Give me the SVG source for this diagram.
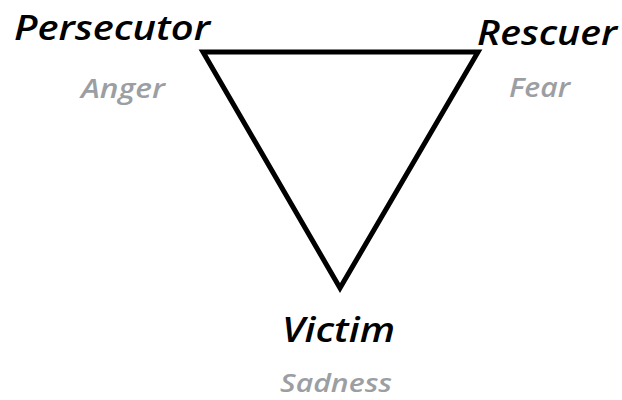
<svg xmlns="http://www.w3.org/2000/svg" width="622" height="400" viewBox="0 0 622 400">
<style>
.role{font-family:"Open Sans",Lato,sans-serif;font-weight:600;font-style:italic;font-size:34px;fill:#000}
.emo{font-family:"Open Sans",Lato,sans-serif;font-weight:600;font-style:italic;font-size:27px;fill:#9b9fa3}
</style>
<rect width="622" height="400" fill="#fff"/>
<g id="connectors">
<polygon points="203,52 478,52 340,288" fill="none" stroke="#000" stroke-width="5" stroke-linejoin="miter"/>
</g>
<g id="persecutor"><text class="role" x="14" y="40" textLength="196" lengthAdjust="spacingAndGlyphs">Persecutor</text><text class="emo" x="81" y="98" textLength="84" lengthAdjust="spacingAndGlyphs">Anger</text></g>
<g id="rescuer"><text class="role" x="477" y="45" textLength="140" lengthAdjust="spacingAndGlyphs">Rescuer</text><text class="emo" x="509" y="97" textLength="61" lengthAdjust="spacingAndGlyphs">Fear</text></g>
<g id="victim"><text class="role" x="282" y="342" textLength="113" lengthAdjust="spacingAndGlyphs">Victim</text><text class="emo" x="280" y="392" style="font-size:26px" textLength="112" lengthAdjust="spacingAndGlyphs">Sadness</text></g>
</svg>
